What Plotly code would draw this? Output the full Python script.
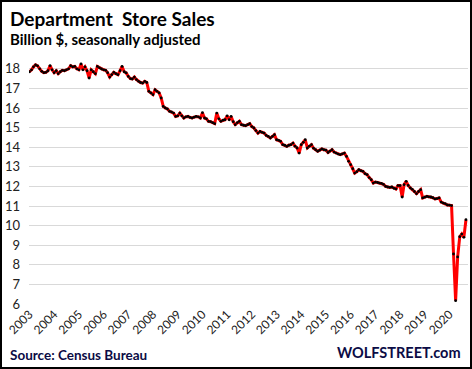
import pandas as pd
import plotly.graph_objects as go

# ---- data (billion $, seasonally adjusted), monthly from Jan 2003 ----
start_month = "2003-01-01"
sales = [
    # 2003
    17.85, 17.95, 18.10, 18.20, 18.15, 18.00, 17.87, 17.80, 17.82, 17.90, 18.16, 17.95,
    # 2004
    17.80, 17.90, 17.75, 17.85, 17.92, 17.90, 17.95, 18.00, 18.16, 18.10, 18.12, 18.00,
    # 2005
    17.95, 18.25, 17.95, 18.10, 17.90, 17.53, 17.95, 17.85, 17.75, 18.12, 18.05, 17.99,
    # 2006
    17.95, 17.92, 17.80, 17.58, 17.70, 17.82, 17.75, 17.70, 17.90, 18.12, 17.85, 17.79,
    # 2007
    17.61, 17.50, 17.48, 17.58, 17.45, 17.36, 17.30, 17.27, 17.36, 17.30, 16.85, 16.77,
    # 2008
    16.68, 16.93, 16.85, 16.77, 16.51, 16.08, 16.00, 15.95, 15.83, 15.80, 15.74, 15.57,
    # 2009
    15.60, 15.74, 15.60, 15.49, 15.55, 15.57, 15.52, 15.49, 15.53, 15.57, 15.55, 15.49,
    # 2010
    15.76, 15.49, 15.45, 15.32, 15.30, 15.25, 15.20, 15.74, 15.45, 15.32, 15.38, 15.40,
    # 2011
    15.60, 15.40, 15.57, 15.30, 15.15, 15.25, 15.32, 15.15, 15.12, 15.10, 15.15, 15.20,
    # 2012
    15.05, 14.98, 14.85, 14.72, 14.80, 14.76, 14.72, 14.60, 14.55, 14.47, 14.55, 14.64,
    # 2013
    14.38, 14.35, 14.30, 14.13, 14.10, 14.04, 14.10, 14.13, 14.21, 14.05, 13.96, 13.70,
    # 2014
    14.13, 14.25, 14.38, 13.96, 14.05, 14.13, 13.95, 13.87, 13.79, 13.85, 13.91, 13.87,
    # 2015
    13.85, 13.73, 13.80, 13.87, 13.75, 13.70, 13.65, 13.62, 13.66, 13.70, 13.53, 13.28,
    # 2016
    13.11, 12.90, 12.68, 12.75, 12.85, 12.80, 12.77, 12.65, 12.60, 12.45, 12.34, 12.17,
    # 2017
    12.22, 12.20, 12.17, 12.15, 12.10, 12.00, 11.97, 11.95, 11.97, 11.90, 11.87, 12.04,
    # 2018
    12.04, 11.46, 12.09, 12.26, 12.05, 11.92, 11.85, 11.74, 11.63, 11.74, 11.83, 11.41,
    # 2019
    11.45, 11.49, 11.47, 11.46, 11.42, 11.36, 11.38, 11.41, 11.20, 11.15, 11.12, 11.05,
    # 2020
    11.04, 11.02, 8.55, 6.17, 8.40, 9.43, 9.57, 9.40, 10.30,
]
y_ticks = [6, 7, 8, 9, 10, 11, 12, 13, 14, 15, 16, 17, 18]
title_text = "Department\u00a0\u00a0Store Sales"
subtitle_text = "Billion $, seasonally adjusted"
source_text = "Source: Census Bureau"
brand_text = "WOLFSTREET.com"

dates = pd.date_range(start_month, periods=len(sales), freq="MS")

# ---- layout geometry ----
W, H = 472, 369
ML, MR, MT, MB = 29, 4, 59, 65
PW, PH = W - ML - MR, H - MT - MB

# x range: first month 0.5px inside plot, Sep 2020 at ~466px
d0 = pd.Timestamp("2003-01-01")
d1 = pd.Timestamp("2020-09-01")
days_per_px = (d1 - d0).days / (466 - 29.5)
x_start = d0 - pd.Timedelta(days=round(0.5 * days_per_px))
x_end = x_start + pd.Timedelta(days=round(PW * days_per_px))
x_range = [x_start.strftime("%Y-%m-%d"), x_end.strftime("%Y-%m-%d")]


def px(x):
    return (x - ML) / PW


def py(y):
    return (MT + PH - y) / PH


fig = go.Figure()
fig.add_trace(go.Scatter(
    x=[d.strftime("%Y-%m-%d") for d in dates], y=sales, mode="lines+markers",
    line=dict(color="#FF0000", width=3),
    marker=dict(color="#000000", size=2.8),
    hoverinfo="skip", showlegend=False,
))

font_main = "Lato, 'Open Sans', sans-serif"

fig.update_layout(
    width=W, height=H,
    margin=dict(l=ML, r=MR, t=MT, b=MB, pad=0, autoexpand=False),
    paper_bgcolor="white", plot_bgcolor="white",
    hovermode=False,
    font=dict(family=font_main, color="#222222"),
    xaxis=dict(
        range=x_range, type="date", automargin=False,
        tick0="2003-01-01", dtick="M12", tickformat="%Y",
        tickangle=-45, showgrid=False, zeroline=False, showline=False,
        ticks="", tickfont=dict(size=12, color="#222222"),
    ),
    yaxis=dict(
        range=[6, 18.5], tickvals=y_ticks, showgrid=True, automargin=False,
        gridcolor="#D9D9D9", gridwidth=1, zeroline=False, showline=False,
        ticks="", tickfont=dict(size=13, color="#222222"),
        ticklabelstandoff=8,
    ),
)

annotations = [
    dict(text="<b>" + title_text + "</b>", x=px(8), y=py(18), xanchor="left",
         yanchor="middle", font=dict(size=19, color="#000000", family=font_main)),
    dict(text="<b>" + subtitle_text + "</b>", x=px(8), y=py(39.5), xanchor="left",
         yanchor="middle", font=dict(size=15, color="#000000", family=font_main)),
    dict(text="<b>" + source_text + "</b>", x=px(8), y=py(355), xanchor="left",
         yanchor="middle", font=dict(size=13.5, color="#0B0B45", family=font_main)),
    dict(text="<b>" + brand_text + "</b>", x=px(463), y=py(352.5), xanchor="right",
         yanchor="middle", font=dict(size=14.5, color="#0B0B45", family=font_main)),
]
for a in annotations:
    a.update(xref="paper", yref="paper", showarrow=False)
fig.update_layout(annotations=annotations)

# outer frame of the image
fig.add_shape(type="rect", xref="paper", yref="paper",
              x0=px(1), x1=px(W - 1), y0=py(H - 1), y1=py(1),
              line=dict(color="black", width=2), fillcolor="rgba(0,0,0,0)",
              layer="above")

fig.write_html("out.html", config={"displayModeBar": False},
               post_script="document.body.style.margin='0';")
